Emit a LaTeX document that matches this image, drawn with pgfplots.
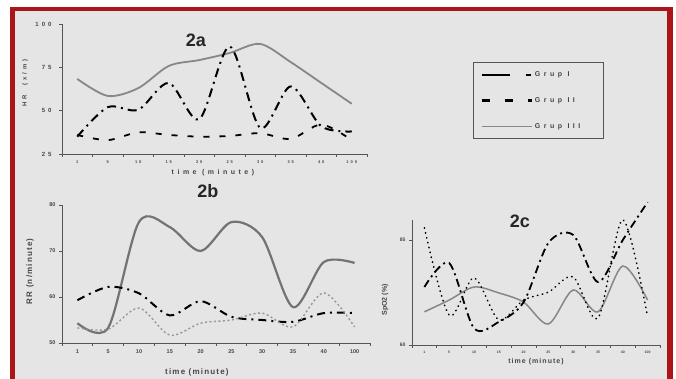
\documentclass[border=0pt]{standalone}
\usepackage{fontspec}
\setmainfont{Liberation Sans}
\newfontfamily\spaced[LetterSpace=50]{Liberation Sans}
\newfontfamily\lspaced[LetterSpace=15]{Liberation Sans}
\usepackage{pgfplots}
\pgfplotsset{compat=1.18}
\definecolor{framered}{RGB}{172,20,24}
\definecolor{bggray}{RGB}{229,229,229}
\definecolor{axgray}{RGB}{85,85,85}
\definecolor{txtgray}{RGB}{70,70,70}
\definecolor{gthree}{RGB}{135,135,135}
\definecolor{gthreeb}{RGB}{115,115,115}
\definecolor{gtwob}{RGB}{150,150,150}

\pgfplotsset{
 panel/.style={
  scale only axis, axis lines=left,
  axis line style={-, draw=axgray, line width=0.9pt},
  xmin=-0.5, xmax=9.5,
  xtick={-0.5,0.5,...,9.5},
  x tick label as interval=true,
  xticklabels={1,5,10,15,20,25,30,35,40,100},
  major tick length=3pt,
  tick align=outside,
  tick style={draw=axgray, line width=0.7pt},
  ticklabel style={text=txtgray},
  /pgf/number format/assume math mode=true,
  clip=false,
  every axis plot/.append style={smooth, tension=0.5},
 },
}

\begin{document}
\begin{tikzpicture}
\fill[white] (0pt,0pt) rectangle (676pt,379pt);
\fill[framered] (10pt,0pt) rectangle (673pt,372pt);
\fill[bggray] (15pt,0pt) rectangle (667pt,368pt);

% ---------- 2a ----------
\begin{axis}[panel, at={(62pt,225pt)}, anchor=south west,
  width=305pt, height=130pt,
  ymin=25, ymax=100, ytick={25,50,75,100}, yticklabels={25,50,75,100},
  yticklabel style={font=\spaced\bfseries\fontsize{6}{7}\selectfont, xshift=-4pt},
  xticklabel style={font=\spaced\bfseries\fontsize{4}{5}\selectfont},
  xlabel={time (minute)},
  xlabel style={at={(axis description cs:0.495,-0.146)}, anchor=center,
    font=\spaced\bfseries\fontsize{7}{8}\selectfont, text=txtgray},
  ylabel={HR\ \ (x/m)},
  ylabel style={at={(axis description cs:-0.121,0.546)}, anchor=center,
    font=\spaced\bfseries\fontsize{6}{7}\selectfont, text=txtgray},
  title={2a},
  title style={at={(axis description cs:0.439,0.83)}, anchor=center,
    font=\bfseries\fontsize{18}{20}\selectfont, text=black!85},
  legend style={at={(1.348,0.708)}, anchor=north west, draw=axgray,
    line width=1pt, fill=none,
    font=\spaced\bfseries\fontsize{7}{8}\selectfont, text=txtgray,
    row sep=15.5pt, inner xsep=7pt, inner ysep=7pt},
  legend cell align=left,
  legend image code/.code={\draw[#1] (0pt,0pt) -- (50pt,0pt);},
]
\addplot[forget plot, gthree, line width=1.8pt] coordinates {
 (0,68.3) (1,58.5) (2,63) (3,75.8) (4,79.2) (5,83.3) (6,88.5) (7,78) (8,66) (9,54)};
\addplot[forget plot, black, line width=2pt, dash pattern=on 9pt off 5pt on 2pt off 5pt] coordinates {
 (0,35) (1,52) (2,50.5) (3,66) (4,45) (5,87) (6,40) (7,64) (8,41) (9,38)};
\addplot[forget plot, black, line width=1.8pt, dash pattern=on 6pt off 10pt] coordinates {
 (0,36) (1,33) (2,37.5) (3,36) (4,35) (5,35.4) (6,37) (7,33.7) (8,42) (9,33)};
\addlegendimage{black, line width=2.2pt, dash pattern=on 28pt off 16pt on 5pt off 10pt}
\addlegendentry{Grup I\hspace*{25pt}}
\addlegendimage{black, line width=2.2pt, dash pattern=on 8pt off 15pt}
\addlegendentry{Grup II\hspace*{19pt}}
\addlegendimage{gthree, line width=1.2pt}
\addlegendentry{Grup III\hspace*{13pt}}
\end{axis}

% ---------- 2b ----------
\begin{axis}[panel, at={(62pt,36pt)}, anchor=south west,
  width=308pt, height=138pt,
  ymin=50, ymax=80, ytick={50,60,70,80},
  yticklabel style={font=\bfseries\fontsize{5.5}{6}\selectfont},
  xticklabel style={font=\bfseries\fontsize{5.5}{6}\selectfont},
  xlabel={time (minute)},
  xlabel style={at={(axis description cs:0.438,-0.21)}, anchor=center,
    font=\lspaced\bfseries\fontsize{8}{9}\selectfont, text=txtgray},
  ylabel={RR (n/minute)},
  ylabel style={at={(axis description cs:-0.104,0.52)}, anchor=center,
    font=\lspaced\bfseries\fontsize{8}{9}\selectfont, text=txtgray},
  title={2b},
  title style={at={(axis description cs:0.474,1.06)}, anchor=center,
    font=\bfseries\fontsize{18}{20}\selectfont, text=black!85},
]
\addplot[gthreeb, line width=2.2pt] coordinates {
 (0,54.3) (1,53.3) (2,76.3) (3,75.2) (4,70) (5,76.3) (6,73) (7,57.8) (8,67.6) (9,67.4)};
\addplot[black, line width=2pt, dash pattern=on 8pt off 5pt on 2pt off 5pt] coordinates {
 (0,59.3) (1,62.2) (2,60.8) (3,56) (4,59.1) (5,55.7) (6,55) (7,54.6) (8,56.5) (9,56.5)};
\addplot[gtwob, line width=1.4pt, dash pattern=on 2pt off 2.5pt] coordinates {
 (0,53.3) (1,53) (2,57.6) (3,51.7) (4,54.3) (5,55) (6,56.5) (7,53.5) (8,60.9) (9,53.5)};
\end{axis}

% ---------- 2c ----------
\begin{axis}[panel, at={(412pt,34pt)}, anchor=south west,
  width=248pt, height=125pt,
  ymin=60, ymax=89.76, ytick={60,85},
  yticklabel style={font=\bfseries\fontsize{5}{6}\selectfont},
  xticklabel style={font=\bfseries\fontsize{3.5}{4}\selectfont},
  xlabel={time (minute)},
  xlabel style={at={(axis description cs:0.5,-0.136)}, anchor=center,
    font=\lspaced\bfseries\fontsize{7}{8}\selectfont, text=txtgray},
  ylabel={SpO2 (\%)},
  ylabel style={at={(axis description cs:-0.109,0.36)}, anchor=center,
    font=\bfseries\fontsize{7}{8}\selectfont, text=txtgray},
  title={2c},
  title style={at={(axis description cs:0.435,0.94)}, anchor=center,
    font=\bfseries\fontsize{18}{20}\selectfont, text=black!85},
]
\addplot[gthree, line width=1.5pt] coordinates {
 (0,67.9) (1,70.7) (2,73.8) (3,72.4) (4,70.2) (5,65) (6,73.1) (7,67.9) (8,78.8) (9,70.7)};
\addplot[black, line width=1.8pt, dash pattern=on 8pt off 4pt on 2pt off 4pt] coordinates {
 (0,73.8) (1,79.5) (2,64) (3,65.5) (4,70.2) (5,84.3) (6,86.2) (7,75) (8,85) (9,94)};
\addplot[black, line width=1.6pt, line cap=round, dash pattern=on 0.5pt off 4.5pt] coordinates {
 (0,87.9) (1,67.1) (2,76) (3,66) (4,70.7) (5,72.6) (6,76.2) (7,66.4) (8,89.8) (9,66.7)};
\end{axis}

\pgfresetboundingbox
\useasboundingbox (0pt,0pt) rectangle (676pt,379pt);
\end{tikzpicture}
\end{document}
